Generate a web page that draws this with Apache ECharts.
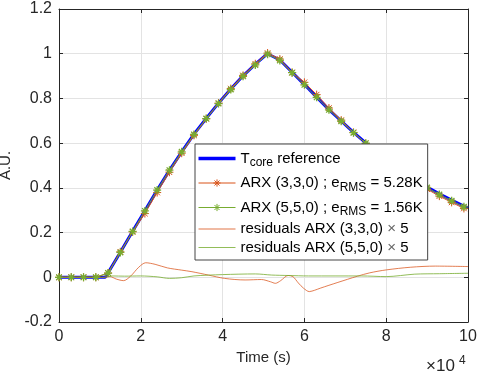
<!DOCTYPE html>
<html>
<head>
<meta charset="utf-8">
<title>ARX model of Tcore</title>
<script src="https://cdn.jsdelivr.net/npm/echarts@6.0.0/dist/echarts.min.js"></script>
<style>
    html, body { margin: 0; padding: 0; background: #fff; }
    #main { width: 480px; height: 376px; }
</style>
</head>
<body>
<div id="main"></div>
<script>
// reference curve (time in s)
var refTime = [0, 11300, 12000, 15000, 18000, 21000, 24000, 27000, 30000, 33000, 36000, 39000, 42000, 45000, 48000, 51000,
    54000, 57000, 60000, 63000, 66000, 69000, 72000, 75000, 78000, 81000, 84000, 87000, 90000, 93000, 96000, 99000, 100000];
var refValue = [0, 0, 0.020, 0.112, 0.206, 0.298, 0.390, 0.478, 0.561, 0.640, 0.711, 0.779, 0.842, 0.901, 0.953, 1.000,
    0.972, 0.917, 0.862, 0.806, 0.750, 0.699, 0.648, 0.601, 0.557, 0.516, 0.477, 0.439, 0.404, 0.373, 0.345, 0.318, 0.310];

// ARX outputs, sampled at the marker times
var markTime = [0, 3000, 6000, 9000, 12000, 15000, 18000, 21000, 24000, 27000, 30000, 33000, 36000, 39000, 42000, 45000, 48000,
    51000, 54000, 57000, 60000, 63000, 66000, 69000, 72000, 75000, 78000, 81000, 84000, 87000, 90000, 93000, 96000, 99000];
var arx3Value = [0, 0, 0, 0, 0.019, 0.114, 0.203, 0.285, 0.379, 0.470, 0.555, 0.635, 0.709, 0.779, 0.844, 0.903, 0.955,
    1.003, 0.976, 0.916, 0.872, 0.817, 0.757, 0.703, 0.648, 0.598, 0.552, 0.509, 0.469, 0.430, 0.394, 0.363, 0.335, 0.308];
var arx5Value = [0, 0, 0, 0, 0.019, 0.111, 0.205, 0.297, 0.390, 0.479, 0.561, 0.639, 0.710, 0.777, 0.840, 0.899, 0.950,
    0.998, 0.970, 0.915, 0.861, 0.805, 0.749, 0.698, 0.647, 0.600, 0.556, 0.515, 0.475, 0.436, 0.401, 0.370, 0.342, 0.315];

// residuals x 5
var res3Time = [0, 11000, 12500, 14000, 15800, 17500, 19500, 21200, 23500, 26500, 30000, 32500, 36500, 40500, 45500, 49500,
    51700, 52900, 54200, 56000, 57200, 58500, 59800, 61200, 62500, 64000, 68000, 73000, 76000, 80000, 86000, 92000, 100000];
var res3Value = [0, 0, 0.003, -0.008, -0.015, 0.005, 0.045, 0.065, 0.058, 0.042, 0.032, 0.025, 0.010, -0.005, -0.012, -0.010,
    -0.020, -0.027, -0.015, 0.008, 0.003, -0.025, -0.049, -0.064, -0.058, -0.048, -0.024, 0.005, 0.020, 0.033, 0.045, 0.050, 0.048];
var res5Time = [0, 11000, 13000, 16000, 20000, 24000, 27000, 30000, 33000, 40000, 48000, 52000, 56000, 61000, 74000, 80000,
    87000, 93000, 100000];
var res5Value = [0, 0, 0.006, 0.005, 0.006, 0.002, -0.005, -0.002, 0.006, 0.012, 0.015, 0.010, 0.008, 0.006, 0.006, 0.003,
    0.014, 0.016, 0.018];

// legend labels (rich text, s = subscript)
var legendLabels = {
    ref: '{n|T}{s|core}{n| reference}',
    arx3: '{n|ARX (3,3,0) ; e}{s|RMS}{n| = 5.28K}',
    arx5: '{n|ARX (5,5,0) ; e}{s|RMS}{n| = 1.56K}',
    res3: '{n|residuals ARX (3,3,0) }{x|×}{n| 5}',
    res5: '{n|residuals ARX (5,5,0) }{x|×}{n| 5}'
};

var blue = '#0000ff';
var orange = '#d95319';
var green = '#77ac30';
var axisColor = '#262626';
var font = 'Liberation Sans, Arial, sans-serif';
var star = 'path://M5,0L5,10M0,5L10,5M1.5,1.5L8.5,8.5M8.5,1.5L1.5,8.5';

function pairs(t, v) {
    return t.map(function (x, i) { return [x, v[i]]; });
}

function boxAxis(extra) {
    var axis = {
        type: 'value',
        axisLine: { show: true, onZero: false, lineStyle: { color: axisColor, width: 1 } },
        axisTick: { show: true, inside: true, length: 4, lineStyle: { color: axisColor } },
        axisLabel: { show: false },
        splitLine: { show: false }
    };
    for (var k in extra) axis[k] = extra[k];
    return axis;
}

var chart = echarts.init(document.getElementById('main'));

chart.setOption({
    animation: false,
    // the x10^4 exponent under the x axis
    title: [
        {
            text: '×10', left: 426, top: 358, padding: 0,
            textStyle: { fontSize: 17, fontWeight: 'normal', fontFamily: font, color: axisColor }
        },
        {
            text: '4', left: 459, top: 355, padding: 0,
            textStyle: { fontSize: 12, fontWeight: 'normal', fontFamily: font, color: axisColor }
        }
    ],
    grid: { left: 59, top: 9, width: 409, height: 313, containLabel: false, outerBoundsMode: 'none' },
    xAxis: [
        boxAxis({
            min: 0, max: 100000, interval: 20000, position: 'bottom',
            axisLabel: {
                show: true, color: axisColor, fontSize: 16, fontFamily: font, margin: 7,
                formatter: function (v) { return v / 10000; }
            },
            splitLine: { show: true, lineStyle: { color: '#e3e3e3' } },
            name: 'Time (s)', nameLocation: 'middle', nameGap: 27,
            nameTextStyle: { color: axisColor, fontSize: 15, fontFamily: font }
        }),
        boxAxis({ min: 0, max: 100000, interval: 20000, position: 'top' })
    ],
    yAxis: [
        boxAxis({
            min: -0.2, max: 1.2, interval: 0.2, position: 'left',
            axisLabel: { show: true, color: axisColor, fontSize: 16, fontFamily: font, margin: 7 },
            splitLine: { show: true, lineStyle: { color: '#e3e3e3' } },
            name: 'A.U.', nameLocation: 'middle', nameGap: 43,
            nameTextStyle: { color: axisColor, fontSize: 15, fontFamily: font }
        }),
        boxAxis({ min: -0.2, max: 1.2, interval: 0.2, position: 'right' })
    ],
    legend: {
        orient: 'vertical',
        left: 195,
        top: 144,
        backgroundColor: '#fff',
        borderColor: '#444',
        borderWidth: 1,
        borderRadius: 0,
        padding: [4, 5, 5, 3],
        itemWidth: 37,
        itemHeight: 9,
        itemGap: 3.5,
        selectedMode: false,
        textStyle: {
            color: '#000', fontFamily: font, fontSize: 15,
            rich: {
                n: { fontSize: 15, fontFamily: font, color: '#000', verticalAlign: 'top' },
                s: { fontSize: 12, fontFamily: font, color: '#000', lineHeight: 13, padding: [9, 0, 0, 0] },
                x: { fontSize: 15, fontFamily: font, color: '#666', verticalAlign: 'top' }
            }
        },
        formatter: function (name) { return legendLabels[name]; },
        data: [
            { name: 'ref', icon: 'path://M0,0H40V4H0Z', itemStyle: { color: blue, borderWidth: 0 } },
            { name: 'arx3', itemStyle: { color: orange, borderColor: orange, borderWidth: 1 }, lineStyle: { color: orange, width: 1 } },
            { name: 'arx5', itemStyle: { color: green, borderColor: green, borderWidth: 1 }, lineStyle: { color: green, width: 1 } },
            { name: 'res3', icon: 'path://M0,0H40V1.2H0Z', itemStyle: { color: orange, borderWidth: 0, opacity: 0.8 } },
            { name: 'res5', icon: 'path://M0,0H40V1.2H0Z', itemStyle: { color: green, borderWidth: 0, opacity: 0.8 } }
        ]
    },
    series: [
        {
            name: 'ref', type: 'line', silent: true,
            data: pairs(refTime, refValue),
            symbol: 'none',
            lineStyle: { color: blue, width: 3 },
            itemStyle: { color: blue }
        },
        {
            name: 'arx3', type: 'line', silent: true,
            data: pairs(markTime, arx3Value),
            symbol: star, symbolSize: 8, showAllSymbol: true,
            lineStyle: { color: orange, width: 1 },
            itemStyle: { color: orange, borderColor: orange, borderWidth: 1 }
        },
        {
            name: 'arx5', type: 'line', silent: true,
            data: pairs(markTime, arx5Value),
            symbol: star, symbolSize: 8, showAllSymbol: true,
            lineStyle: { color: green, width: 1 },
            itemStyle: { color: green, borderColor: green, borderWidth: 1.3 }
        },
        {
            name: 'res3', type: 'line', silent: true,
            data: pairs(res3Time, res3Value),
            symbol: 'none', smooth: 0.3,
            lineStyle: { color: orange, width: 1, opacity: 0.75 },
            itemStyle: { color: orange }
        },
        {
            name: 'res5', type: 'line', silent: true,
            data: pairs(res5Time, res5Value),
            symbol: 'none', smooth: 0.3,
            lineStyle: { color: green, width: 1, opacity: 0.8 },
            itemStyle: { color: green }
        }
    ]
});
</script>
</body>
</html>
